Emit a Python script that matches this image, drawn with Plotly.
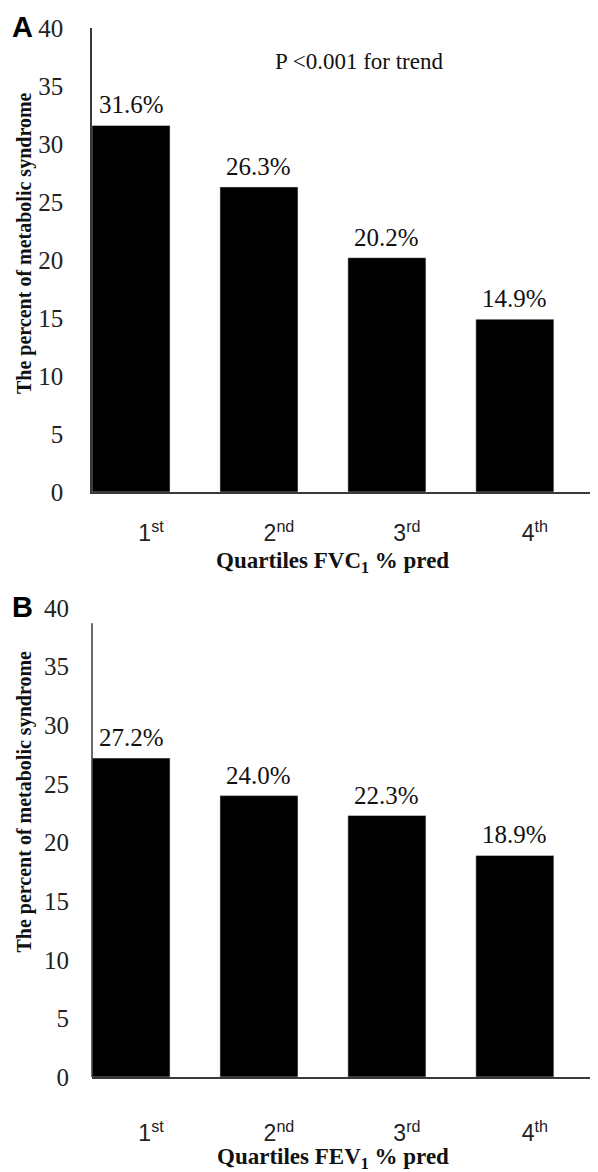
import plotly.graph_objects as go
from plotly.subplots import make_subplots

categories = ["1<sup>st</sup>", "2<sup>nd</sup>", "3<sup>rd</sup>", "4<sup>th</sup>"]
fvc_values = [31.6, 26.3, 20.2, 14.9]
fev_values = [27.2, 24.0, 22.3, 18.9]
y_ticks = [0, 5, 10, 15, 20, 25, 30, 35, 40]

SERIF = "Liberation Serif, Times New Roman, serif"
SANS = "Liberation Sans, Arial, sans-serif"
AXC = "#3a3a3a"

# the page body adds an 8px offset, so the figure is 8px smaller and all
# positions are measured from (8, 8)
OFF = 8
W, H = 598 - OFF, 1172 - OFF
top = 28 - OFF
a_bot = 492 - OFF
b_top = 608 - OFF
b_bot = 1077 - OFF
bot = H - b_bot
ph = H - top - bot

fig = make_subplots(rows=2, cols=1, shared_xaxes=False)
fig.add_trace(go.Bar(x=categories, y=fvc_values, marker_color="black", width=0.61,
                     hoverinfo="y"), row=1, col=1)
fig.add_trace(go.Bar(x=categories, y=fev_values, marker_color="black", width=0.61,
                     hoverinfo="y"), row=2, col=1)

fig.update_layout(
    width=W, height=H,
    margin=dict(l=92 - OFF, r=0, t=top, b=bot),
    plot_bgcolor="white", paper_bgcolor="white",
    showlegend=False,
    yaxis=dict(domain=[1 - (a_bot - top) / ph, 1]),
    yaxis2=dict(domain=[0, 1 - (b_top - top) / ph]),
)

for r, stand in [(1, 20), (2, 35)]:
    fig.update_xaxes(row=r, col=1, type="category", range=[-0.305, 3.65],
                     showline=True, linecolor=AXC, linewidth=1.5, ticks="",
                     showgrid=False, zeroline=False,
                     tickfont=dict(family=SANS, size=23, color="#222"),
                     ticklabelshift=20, ticklabelstandoff=stand)
    fig.update_yaxes(row=r, col=1, range=[0, 40], tickvals=y_ticks,
                     showline=(r == 1), linecolor=AXC, linewidth=1.5, ticks="",
                     showgrid=False, zeroline=False,
                     tickfont=dict(family=SERIF, size=25, color="#222"),
                     ticklabelstandoff=22)

# y axis line for panel B (shorter than the tick range)
fig.add_shape(type="line", xref="x2 domain", yref="y2", x0=0, x1=0, y0=0, y1=38.7,
              line=dict(color=AXC, width=1.5))

ann = []
for r, vals, ysh in [(1, fvc_values, 17), (2, fev_values, 41)]:
    xr = "x" if r == 1 else "x2"
    yr = "y" if r == 1 else "y2"
    for c, v in zip(categories, vals):
        ann.append(dict(x=c, y=v, xref=xr, yref=yr, text=f"{v:.1f}%", showarrow=False,
                        yanchor="bottom", yshift=5,
                        font=dict(family=SERIF, size=25, color="#111")))
    ann.append(dict(x=0, y=0.5, xref="paper", yref=f"{yr} domain",
                    text="<b>The percent of metabolic syndrome</b>", textangle=-90,
                    showarrow=False, xanchor="center", yanchor="middle",
                    xshift=-68, yshift=ysh,
                    font=dict(family=SERIF, size=20, color="#111")))

ann.append(dict(x=0.476, y=0, xref="paper", yref="y domain",
                text="<b>Quartiles FVC<sub>1</sub> % pred</b>", showarrow=False,
                xanchor="center", yanchor="middle", yshift=-70,
                font=dict(family=SERIF, size=23, color="#111")))
ann.append(dict(x=0.476, y=0, xref="paper", yref="y2 domain",
                text="<b>Quartiles FEV<sub>1</sub> % pred</b>", showarrow=False,
                xanchor="center", yanchor="middle", yshift=-81,
                font=dict(family=SERIF, size=23, color="#111")))
ann.append(dict(x=0.528, y=37.1, xref="x domain", yref="y",
                text="P &lt;0.001 for trend", showarrow=False,
                xanchor="center", yanchor="middle",
                font=dict(family=SERIF, size=23, color="#111")))
ann.append(dict(x=0, y=1, xref="paper", yref="y domain", text="<b>A</b>",
                showarrow=False, xanchor="center", yanchor="middle",
                xshift=-70, yshift=1,
                font=dict(family=SANS, size=29, color="#000")))
ann.append(dict(x=0, y=1, xref="paper", yref="y2 domain", text="<b>B</b>",
                showarrow=False, xanchor="center", yanchor="middle",
                xshift=-70, yshift=1,
                font=dict(family=SANS, size=29, color="#000")))
fig.update_layout(annotations=ann)

fig.write_html("out.html")
